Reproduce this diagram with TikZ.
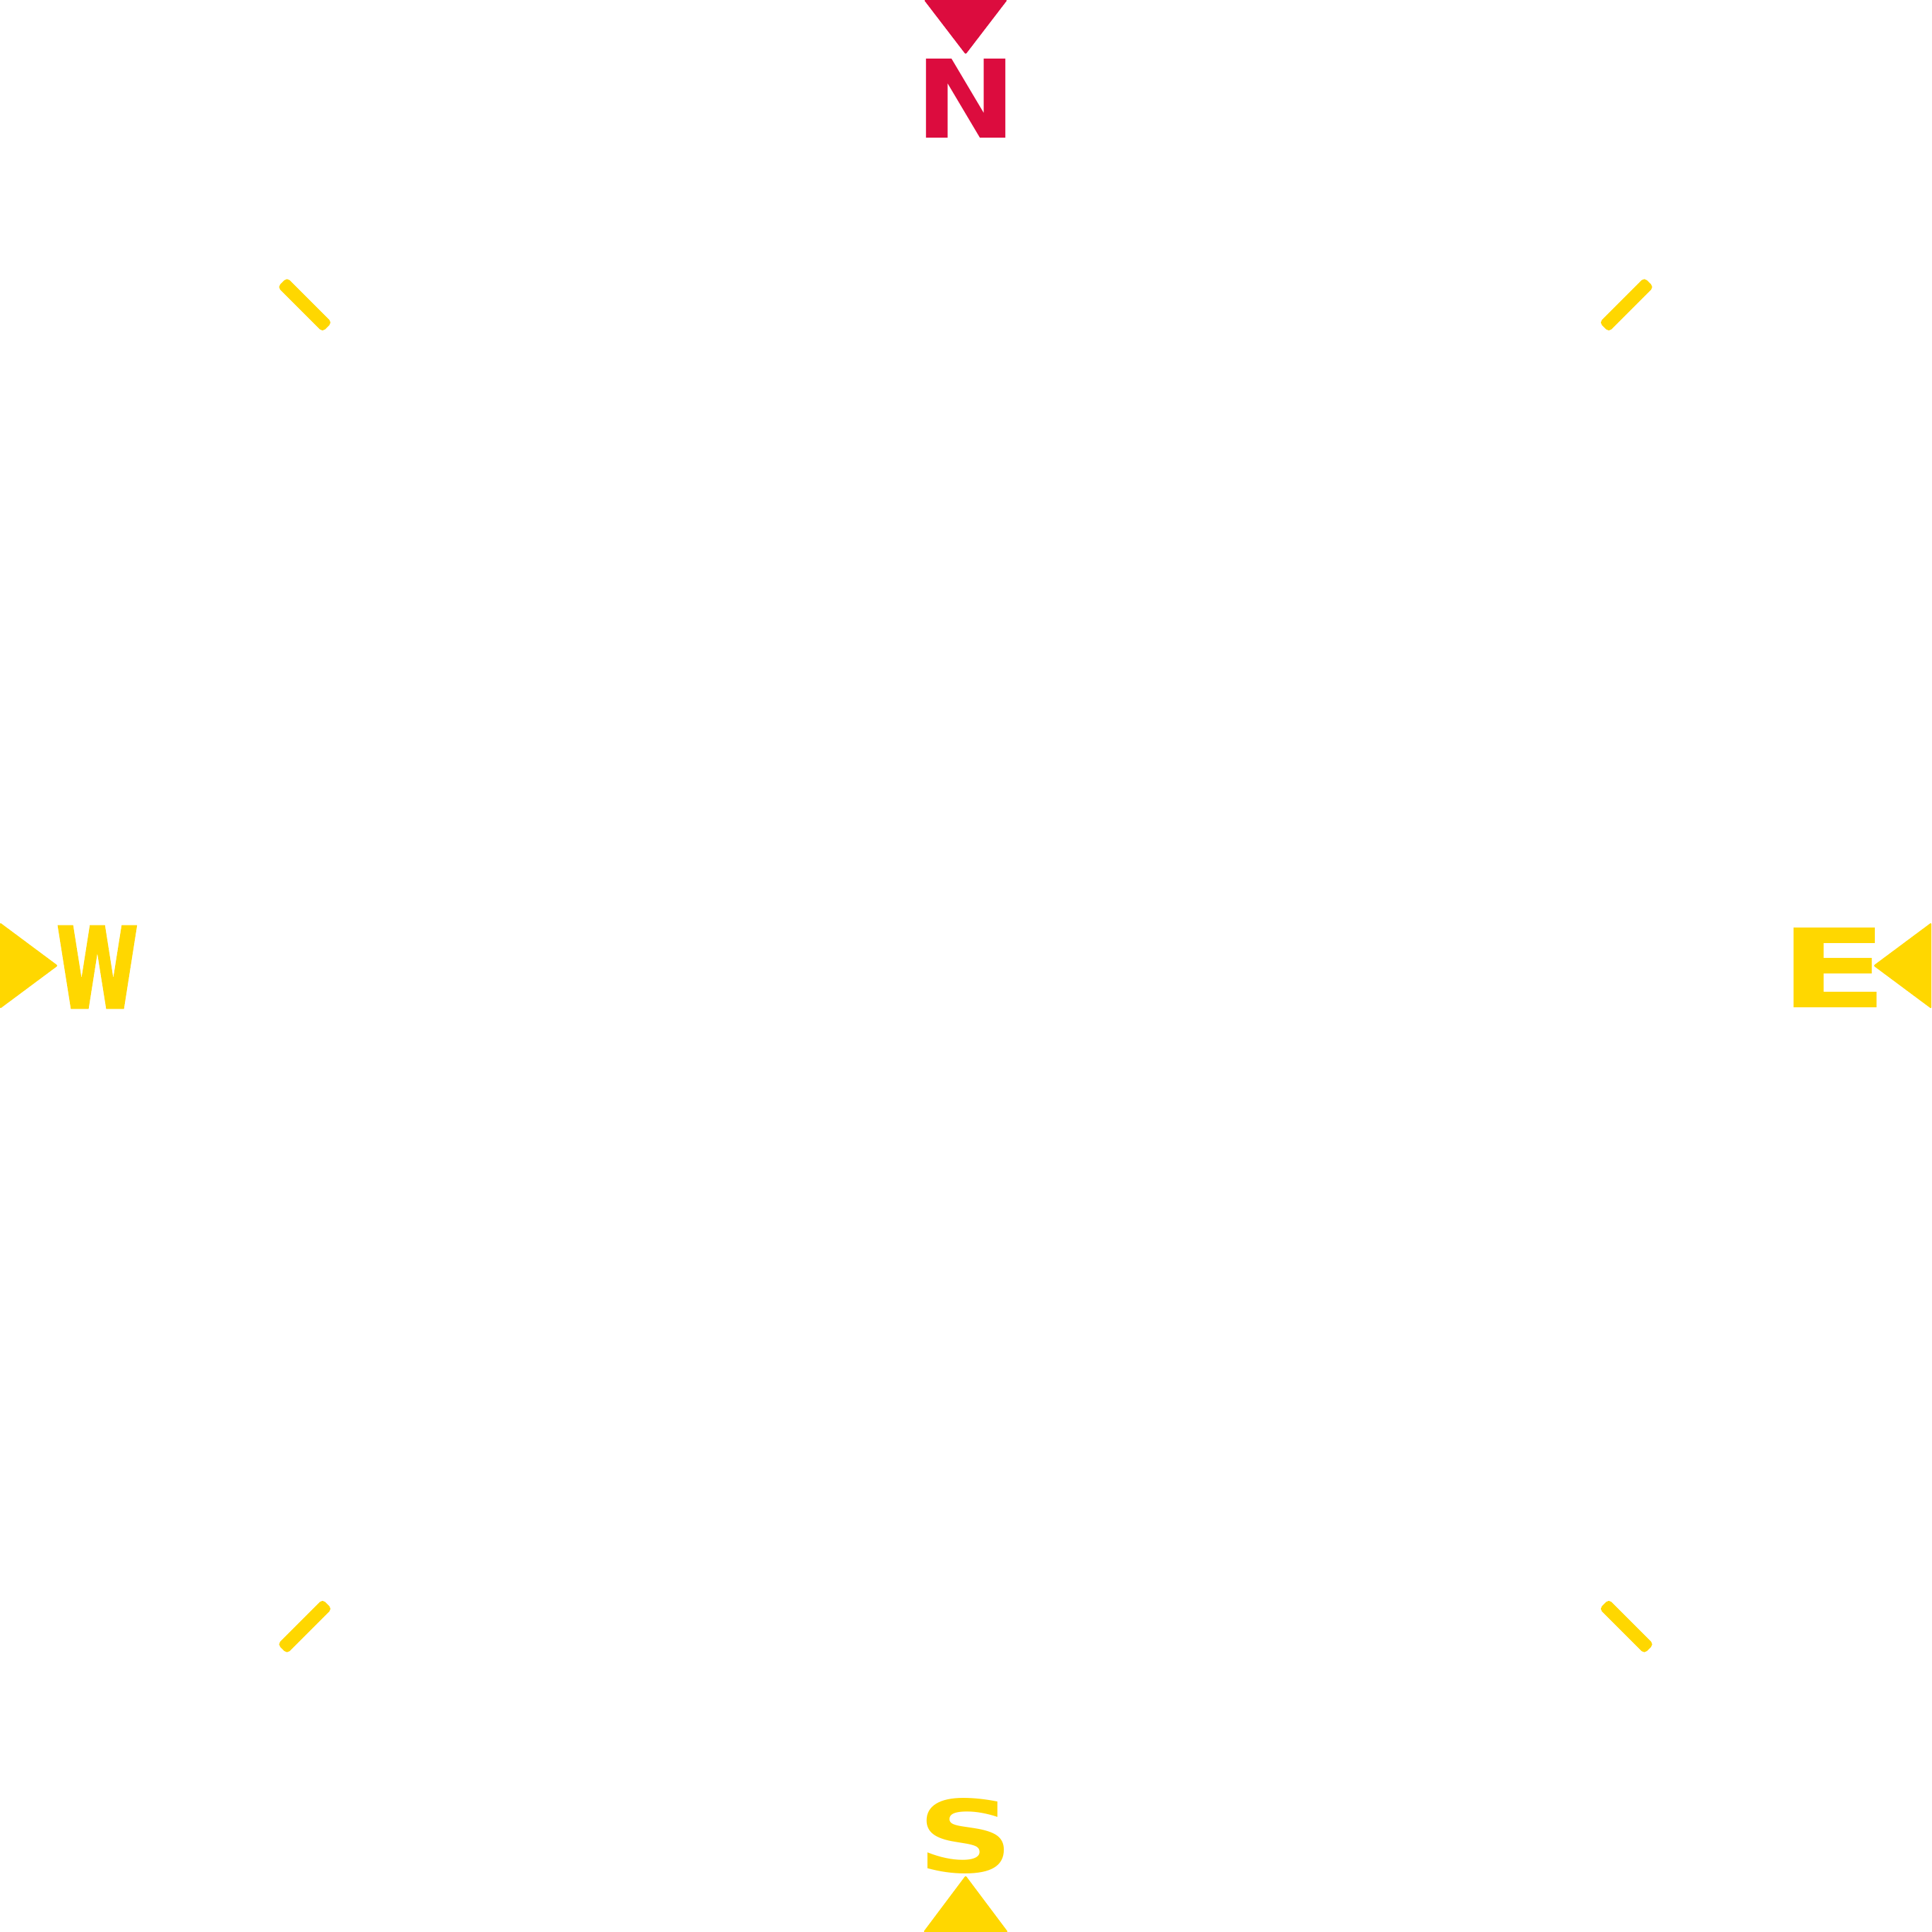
\documentclass[tikz,border=0pt]{standalone}
\usepackage{fontspec}
\setmainfont{DejaVu Sans}
\newfontfamily\heavyfont[FakeBold=3]{DejaVu Sans Bold}
\usepackage{graphicx}
\usetikzlibrary{positioning}

\begin{document}
\begin{tikzpicture}[tickbar/.style={fill=goldcol, rounded corners=1.5pt},
  ptr/.style={fill=#1, rounded corners=0.6pt},
  lbl/.style={inner sep=0pt, outer sep=0pt, text=#1, font=\bfseries}]

\definecolor{northcol}{RGB}{220,12,62}
\definecolor{goldcol}{RGB}{255,215,0}

\useasboundingbox (-13.68,-13.69) rectangle (13.68,13.68);

% ===== POINTERS =====
\fill[ptr=northcol] (-0.59,13.68) -- (0.59,13.68) -- (0,12.91) -- cycle;
\fill[ptr=goldcol] (-0.60,-13.69) -- (0.60,-13.69) -- (0,-12.89) -- cycle;
\fill[ptr=goldcol] (-13.68,0.61) -- (-13.68,-0.61) -- (-12.86,0) -- cycle;
\fill[ptr=goldcol] (13.68,0.61) -- (13.68,-0.61) -- (12.86,0) -- cycle;

% ===== LETTERS =====
\node[lbl=northcol] (north) at (0.01,12.28) {\resizebox{1.44cm}{1.12cm}{N}};
\node[lbl=goldcol] (south) at (0,-12.33) {\resizebox{1.37cm}{1.05cm}{S}};
\node[lbl=goldcol] (west) at (-12.30,-0.02) {\resizebox{1.15cm}{1.14cm}{\heavyfont W}};
\node[lbl=goldcol] (east) at (12.30,-0.03) {\resizebox{1.55cm}{1.13cm}{E}};

% ===== DIAGONAL TICKS =====
\foreach \a in {45,135,225,315}
  \fill[tickbar, rotate=\a] (12.79,-0.095) rectangle (13.69,0.095);

\end{tikzpicture}
\end{document}
